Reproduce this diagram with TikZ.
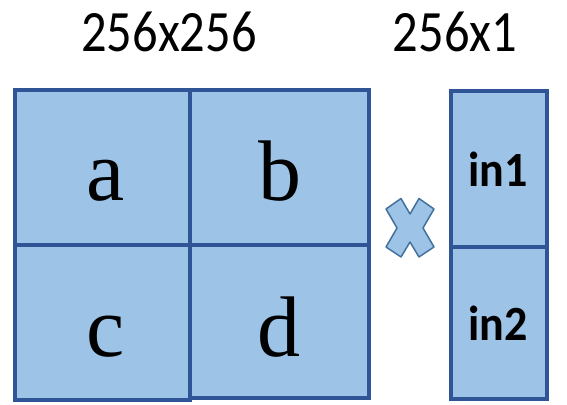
\documentclass[tikz,border=0pt]{standalone}
\usepackage{fontspec}
\setmainfont{Liberation Serif}
\newfontfamily\calibri{Carlito}
\definecolor{cellfill}{HTML}{9DC3E6}
\definecolor{celledge}{HTML}{2F5597}
\definecolor{xedge}{HTML}{41719C}
\begin{document}
\begin{tikzpicture}[x=1pt,y=-1pt,
  cellbox/.style={draw=celledge,fill=cellfill,line width=4.5pt},
  letter/.style={anchor=base,inner sep=0pt,font=\fontsize{86}{88}\selectfont},
  vecl/.style={anchor=base,inner sep=0pt,font=\calibri\bfseries\fontsize{46}{48}\selectfont},
  dims/.style={anchor=base,inner sep=0pt,font=\calibri\fontsize{50.5}{52}\selectfont},
  crossmark/.style={draw=xedge,fill=cellfill,line width=1.5pt,line join=round}]
\useasboundingbox (0,0) rectangle (567,404);
% matrix cells
\draw[cellbox] (15,90) rectangle (190,245);
\draw[cellbox] (190,90) rectangle (369,245);
\draw[cellbox] (15,245) rectangle (190,400);
\draw[cellbox] (190,245) rectangle (369,398);
% vector cells
\draw[cellbox] (451,91) rectangle (547,247);
\draw[cellbox] (451,247) rectangle (547,399);
% multiply mark
\draw[crossmark] (386,209) -- (401,198.5) -- (410,214) -- (419,198.5) -- (434,209)
  -- (423,228) -- (434,247) -- (419,257) -- (410,242) -- (401,257) -- (386,247)
  -- (397,228) -- cycle;
% labels
\node[letter] (a) at (106,200) {a};
\node[letter] (b) at (280,200) {b};
\node[letter] (c) at (106,356) {c};
\node[letter] (d) at (279,356) {d};
\node[vecl] (in1) at (498,186) {\scalebox{1}[1.07]{in1}};
\node[vecl] (in2) at (498,340) {\scalebox{1}[1.07]{in2}};
\node[dims] (dimA) at (169,52) {\scalebox{1}[1.16]{256x256}};
\node[dims] (dimB) at (455,52) {\scalebox{1}[1.16]{256x1}};
\end{tikzpicture}
\end{document}
